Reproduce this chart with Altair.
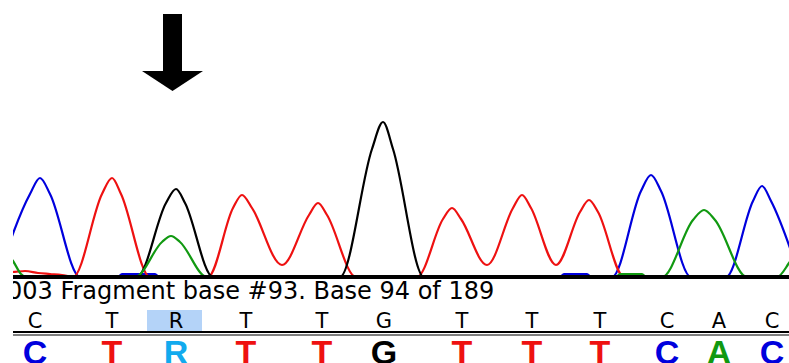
import altair as alt
import pandas as pd

# Trace samples for each dye channel: scan position and signal intensity
blue_scan = [-2, 30, 40, 50, 80, 118, 122, 155, 159, 560, 564, 587, 591,
             612, 641, 651, 661, 691, 726, 753, 762, 771, 800]
blue_sig = [0, 83, 99, 83, 0, 0, 3, 3, 0, 0, 3, 3, 0,
            0, 86, 102, 86, 0, 0, 76, 91, 76, 0]

red_scan = [0, 12, 25, 38, 50, 62, 73, 102, 112, 121, 150, 208, 233, 242, 252,
            282, 309, 318, 327, 356, 417, 443, 452, 461, 487, 513, 522, 531,
            556, 580, 589, 598, 624, 700, 789]
red_sig = [5, 5, 6, 4, 3, 2, 0, 83, 99, 83, 0, 0, 69, 82, 69,
           12, 62, 74, 62, 0, 0, 58, 69, 58, 12, 69, 82, 69,
           12, 65, 77, 65, 0, 0, 0]

black_scan = [0, 137, 166, 176, 185, 213, 340, 372, 383, 393, 424, 789]
black_sig = [0, 0, 74, 88, 74, 0, 0, 128, 155, 128, 0, 0]

green_scan = [5, 13, 21, 26, 135, 162, 171, 180, 207, 616, 620, 642, 646,
              662, 693, 704, 715, 747, 777, 789, 800]
green_sig = [26, 16, 3, 0, 0, 35, 41, 35, 0, 0, 3, 3, 0,
             0, 57, 67, 57, 0, 0, 14, 32]

# Base calls and their positions
bases = ["C", "T", "R", "T", "T", "G", "T", "T", "T", "C", "A", "C"]
call_scan = [35, 112, 176, 246, 322, 384, 462, 532, 600, 667, 719, 772]

status_text = "003 Fragment base #93. Base 94 of 189"

dye_domain = ["A", "C", "G", "T", "R"]
dye_colors = ["#119911", "#0000dd", "#000000", "#ee1111", "#11aaee"]

traces = pd.concat([
    pd.DataFrame({"scan": blue_scan, "signal": blue_sig, "dye": "C"}),
    pd.DataFrame({"scan": red_scan, "signal": red_sig, "dye": "T"}),
    pd.DataFrame({"scan": black_scan, "signal": black_sig, "dye": "G"}),
    pd.DataFrame({"scan": green_scan, "signal": green_sig, "dye": "A"}),
], ignore_index=True)

calls = pd.DataFrame({"base": bases, "scan": call_scan})
one = pd.DataFrame({"k": [0]})

W, H = 789, 363
xs = alt.Scale(domain=[0, W], range=[0, W], nice=False, zero=False)
cs = alt.Scale(domain=dye_domain, range=dye_colors)

trace_layer = alt.Chart(traces).mark_line(
    strokeWidth=2.2, interpolate="monotone", clip=True
).encode(
    x=alt.X("scan:Q", scale=xs, axis=None),
    y=alt.Y("signal:Q", scale=alt.Scale(domain=[0, 160], range=[277, 117],
                                        nice=False, zero=False), axis=None),
    color=alt.Color("dye:N", scale=cs, legend=None),
    detail="dye:N",
)

baseline = alt.Chart(one).mark_rule(color="black", strokeWidth=4).encode(
    x=alt.value(0), x2=alt.value(W), y=alt.value(277)
)
sep1 = alt.Chart(one).mark_rule(color="black", strokeWidth=2).encode(
    x=alt.value(0), x2=alt.value(W), y=alt.value(332)
)
sep2 = alt.Chart(one).mark_rule(color="black", strokeWidth=1).encode(
    x=alt.value(0), x2=alt.value(W), y=alt.value(335)
)

status = alt.Chart(one).mark_text(
    text=status_text, font="DejaVu Sans", fontSize=24, align="left",
    baseline="alphabetic", color="black"
).encode(x=alt.value(7), y=alt.value(299))

highlight = alt.Chart(one).mark_rect(color="#b4d3f8").encode(
    x=alt.value(147), x2=alt.value(202), y=alt.value(310), y2=alt.value(331)
)

top_calls = alt.Chart(calls).mark_text(
    font="DejaVu Sans", fontSize=21, align="center", baseline="alphabetic",
    color="black"
).encode(
    x=alt.X("scan:Q", scale=xs, axis=None), y=alt.value(328), text="base:N"
)

big_calls = alt.Chart(calls).mark_text(
    font="Liberation Sans", fontSize=34, fontWeight="bold",
    align="center", baseline="alphabetic"
).encode(
    x=alt.X("scan:Q", scale=xs, axis=None), y=alt.value(364), text="base:N",
    color=alt.Color("base:N", scale=cs, legend=None),
)

arrow_shaft = alt.Chart(one).mark_rect(color="black").encode(
    x=alt.value(163), x2=alt.value(182), y=alt.value(14), y2=alt.value(71)
)
arrow_head = alt.Chart(one).mark_point(
    shape="M-1,0L1,0L0,0.656Z", filled=True, size=3721, color="black",
    opacity=1, strokeWidth=0
).encode(x=alt.value(172.5), y=alt.value(71))

mask = alt.Chart(one).mark_rect(color="white").encode(
    x=alt.value(0), x2=alt.value(13), y=alt.value(0), y2=alt.value(H)
)

chart = alt.layer(
    trace_layer, baseline, sep1, sep2, status, highlight, top_calls,
    big_calls, arrow_shaft, arrow_head, mask
).properties(
    width=W, height=H, padding=0, autosize=alt.AutoSizeParams(type="none"),
    background="white"
).configure_view(stroke=None)

chart.save("out.html", embed_options={"renderer": "svg", "actions": False})
